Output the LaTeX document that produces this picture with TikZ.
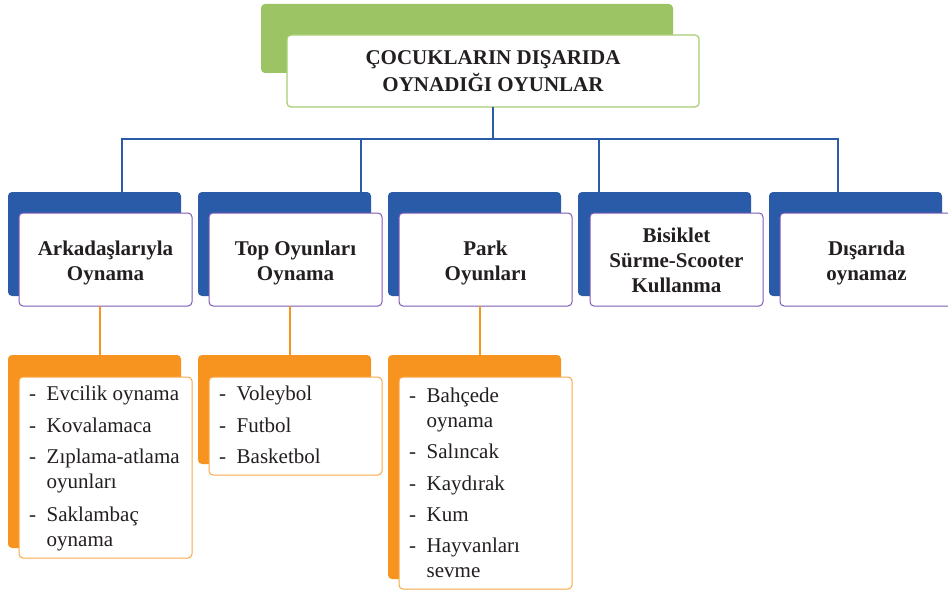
\documentclass[tikz,border=0pt]{standalone}
\usepackage{fontspec}
\setmainfont{Liberation Serif}
\usetikzlibrary{positioning}

\definecolor{leaf}{HTML}{9CC464}
\definecolor{leafline}{HTML}{A8CD72}
\definecolor{navy}{HTML}{2A5BA8}
\definecolor{violet}{HTML}{7D5AB6}
\definecolor{amber}{HTML}{F7941F}
\definecolor{amberline}{HTML}{F9A849}
\definecolor{ink}{HTML}{231F20}

\tikzset{
  panel/.style={rectangle, rounded corners=4pt, inner sep=0pt, outer sep=0pt, anchor=north west},
  backgreen/.style={panel, fill=leaf},
  backblue/.style={panel, fill=navy, minimum width=173pt, minimum height=104pt},
  backorange/.style={panel, fill=amber, minimum width=173pt},
  titlebox/.style={panel, fill=white, draw=leafline, line width=1.2pt},
  headbox/.style={panel, fill=white, draw=violet, line width=1pt, minimum width=173pt, minimum height=93pt},
  itembox/.style={panel, fill=white, draw=amberline, line width=1pt, minimum width=173pt},
  headtext/.style={anchor=base, inner sep=0pt, text=ink, font=\fontsize{21}{25}\selectfont\bfseries},
  itemtext/.style={anchor=base west, inner sep=0pt, text=ink, font=\fontsize{21}{25}\selectfont},
  bus/.style={draw=navy, line width=2.8pt},
  feed/.style={draw=amber, line width=2.6pt},
}

\newcommand{\itemlist}[1]{\begin{tabular}[t]{@{}l@{\hspace{10.5pt}}l@{}}#1\end{tabular}}
\newcommand{\headlines}[1]{\begin{tabular}[t]{@{}c@{}}#1\end{tabular}}

\begin{document}
\begin{tikzpicture}[x=1pt,y=-1pt]
\clip (0,0) rectangle (948,591);
\fill[white] (0,0) rectangle (948,591);

% title block
\node[backgreen, minimum width=412pt, minimum height=69pt] (tback) at (261,4) {};
\node[titlebox, minimum width=412pt, minimum height=72pt] (title) at (287,35) {};
\node[headtext, font=\fontsize{21}{27}\selectfont\bfseries] (ttext) at (493,65)
  {\headlines{ÇOCUKLARIN DIŞARIDA\\OYNADIĞI OYUNLAR}};

% category blocks
\node[backblue] (s1) at (8,192) {};
\node[backblue] (s2) at (198,192) {};
\node[backblue] (s3) at (388,192) {};
\node[backblue] (s4) at (578,192) {};
\node[backblue] (s5) at (769,192) {};

\node[headbox] (h1) at (19,213) {};
\node[headbox] (h2) at (209,213) {};
\node[headbox] (h3) at (399,213) {};
\node[headbox] (h4) at (590,213) {};
\node[headbox] (h5) at (780,213) {};

\node[headtext] (t1) at ([yshift=4.5pt]h1.center) {\headlines{Arkadaşlarıyla\\Oynama}};
\node[headtext] (t2) at ([yshift=4.5pt]h2.center) {\headlines{Top Oyunları\\Oynama}};
\node[headtext] (t3) at ([yshift=4.5pt]h3.center) {\headlines{Park\\Oyunları}};
\node[headtext] (t4) at ([yshift=17.5pt]h4.center) {\headlines{Bisiklet\\Sürme-Scooter\\Kullanma}};
\node[headtext] (t5) at ([yshift=4.5pt]h5.center) {\headlines{Dışarıda\\oynamaz}};

% blue connectors
\coordinate (j0) at (title.south |- 0,139);
\coordinate (j1) at (122,139);
\coordinate (j2) at (361,139);
\coordinate (j4) at (599,139);
\coordinate (j5) at (838,139);
\draw[bus] (title.south) -- (j0);
\draw[bus] ([xshift=-1.4pt]j1) -- ([xshift=1.4pt]j5);
\draw[bus] (j1) -- (j1 |- s1.north);
\draw[bus] (j2) -- (j2 |- s2.north);
\draw[bus] (j4) -- (j4 |- s4.north);
\draw[bus] (j5) -- (j5 |- s5.north);

% example lists
\node[backorange, minimum height=193pt] (o1) at (8,355) {};
\node[backorange, minimum height=109pt] (o2) at (198,355) {};
\node[backorange, minimum height=224pt] (o3) at (388,355) {};

\node[itembox, minimum height=181pt] (b1) at (19,377) {};
\node[itembox, minimum height=98pt] (b2) at (209,377) {};
\node[itembox, minimum height=212pt] (b3) at (399,377) {};

\draw[feed] ([xshift=-5.5pt]h1.south) -- ([xshift=-5.5pt]h1.south |- o1.north);
\draw[feed] ([xshift=-5.5pt]h2.south) -- ([xshift=-5.5pt]h2.south |- o2.north);
\draw[feed] ([xshift=-5.5pt]h3.south) -- ([xshift=-5.5pt]h3.south |- o3.north);

\node[itemtext] (l1) at (29,400) {\itemlist{%
  - & Evcilik oynama\\[7pt]
  - & Kovalamaca\\[6pt]
  - & Zıplama-atlama\\
    & oyunları\\[8pt]
  - & Saklambaç\\
    & oynama}};
\node[itemtext] (l2) at (219,400) {\itemlist{%
  - & Voleybol\\[7pt]
  - & Futbol\\[6pt]
  - & Basketbol}};
\node[itemtext] (l3) at (409,402) {\itemlist{%
  - & Bahçede\\
    & oynama\\[6pt]
  - & Salıncak\\[7pt]
  - & Kaydırak\\[6pt]
  - & Kum\\[6pt]
  - & Hayvanları\\
    & sevme}};
\end{tikzpicture}
\end{document}
